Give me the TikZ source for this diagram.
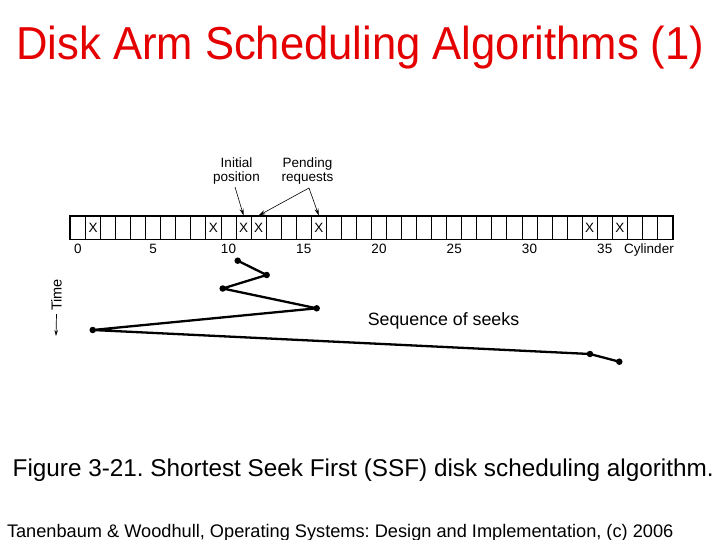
\documentclass[tikz,border=0pt]{standalone}
\usepackage{fontspec}
\setmainfont{Liberation Sans}
\usetikzlibrary{arrows.meta}
\definecolor{titlered}{RGB}{228,0,0}
\frenchspacing
\begin{document}
\begin{tikzpicture}[x=1pt,y=-1pt,
  cellbox/.style={draw,line width=0.9pt,minimum width=15.05pt,minimum height=23pt,inner sep=0pt,font=\fontsize{13.5}{13.5}\selectfont},
  smalltxt/.style={font=\fontsize{13.5}{14}\selectfont,inner sep=0pt},
  seekdot/.style={circle,fill=black,inner sep=0pt,minimum size=6.5pt},
  seekline/.style={line width=2.3pt,line join=round},
  callout/.style={line width=0.6pt,-{Stealth[length=7pt,width=4pt]}}]
\useasboundingbox (0,0) rectangle (720,540);
% title
\node[anchor=base west,inner sep=0pt,text=titlered,font=\fontsize{43.6}{44}\selectfont] (title) at (16,60) {\scalebox{1}[1.06]{Disk Arm Scheduling Algorithms (1)}};
% cylinder bar
\foreach \i in {0,...,39}{
  \node[cellbox] (c\i) at ({78.0+15.05*\i},227.5) {};
}
\draw[line width=1.3pt] (c0.north west) rectangle (c39.south east);
\foreach \i in {1,9,11,12,16,34,36}{
  \node[smalltxt] (x\i) at (c\i) {X};
}
\foreach \i in {0,5,...,35}{
  \node[smalltxt,anchor=base] (n\i) at ({78.0+15.05*\i},253) {\i};
}
\node[smalltxt,anchor=base] (cyl) at (649,253) {Cylinder};
% callouts
\node[smalltxt,align=center,anchor=base] (init) at (236.5,182) {Initial\\position};
\node[smalltxt,align=center,anchor=base] (pend) at (307.5,182) {Pending\\requests};
\coordinate (ia) at (235,187);
\coordinate (pa) at (309,188);
\draw[callout] (ia) -- (c11.north);
\draw[callout] (pa) -- (c12.north);
\draw[callout] (pa) -- (c16.north);
% time axis
\node[smalltxt,rotate=90,font=\fontsize{14.5}{14.5}\selectfont] (time) at (56.5,295) {Time};
\coordinate (tb) at (56,336);
\draw[line width=0.7pt,-{Stealth[length=6pt,width=3.5pt]}] (time.west) ++(0,3) -- (tb);
% seek path
\node[seekdot] (p1) at (237.7,260.7) {};
\node[seekdot] (p2) at (266.7,275) {};
\node[seekdot] (p3) at (222.7,288.5) {};
\node[seekdot] (p4) at (316.7,308.3) {};
\node[seekdot] (p5) at (92.7,330) {};
\node[seekdot] (p6) at (590,354) {};
\node[seekdot] (p7) at (619.3,361.7) {};
\draw[seekline] (p1.center) -- (p2.center) -- (p3.center) -- (p4.center) -- (p5.center) -- (p6.center) -- (p7.center);
\node[anchor=base,inner sep=0pt,font=\fontsize{17.8}{18}\selectfont] (seq) at (443.5,325) {Sequence of seeks};
% caption
\node[anchor=base west,inner sep=0pt,font=\fontsize{24.3}{24.5}\selectfont] (cap) at (12.5,476) {Figure 3-21. Shortest Seek First (SSF) disk scheduling algorithm.};
\node[anchor=base west,inner sep=0pt,font=\fontsize{18.2}{18.5}\selectfont] (foot) at (6.8,537.5) {Tanenbaum \& Woodhull, Operating Systems: Design and Implementation, (c) 2006};
\end{tikzpicture}
\end{document}
